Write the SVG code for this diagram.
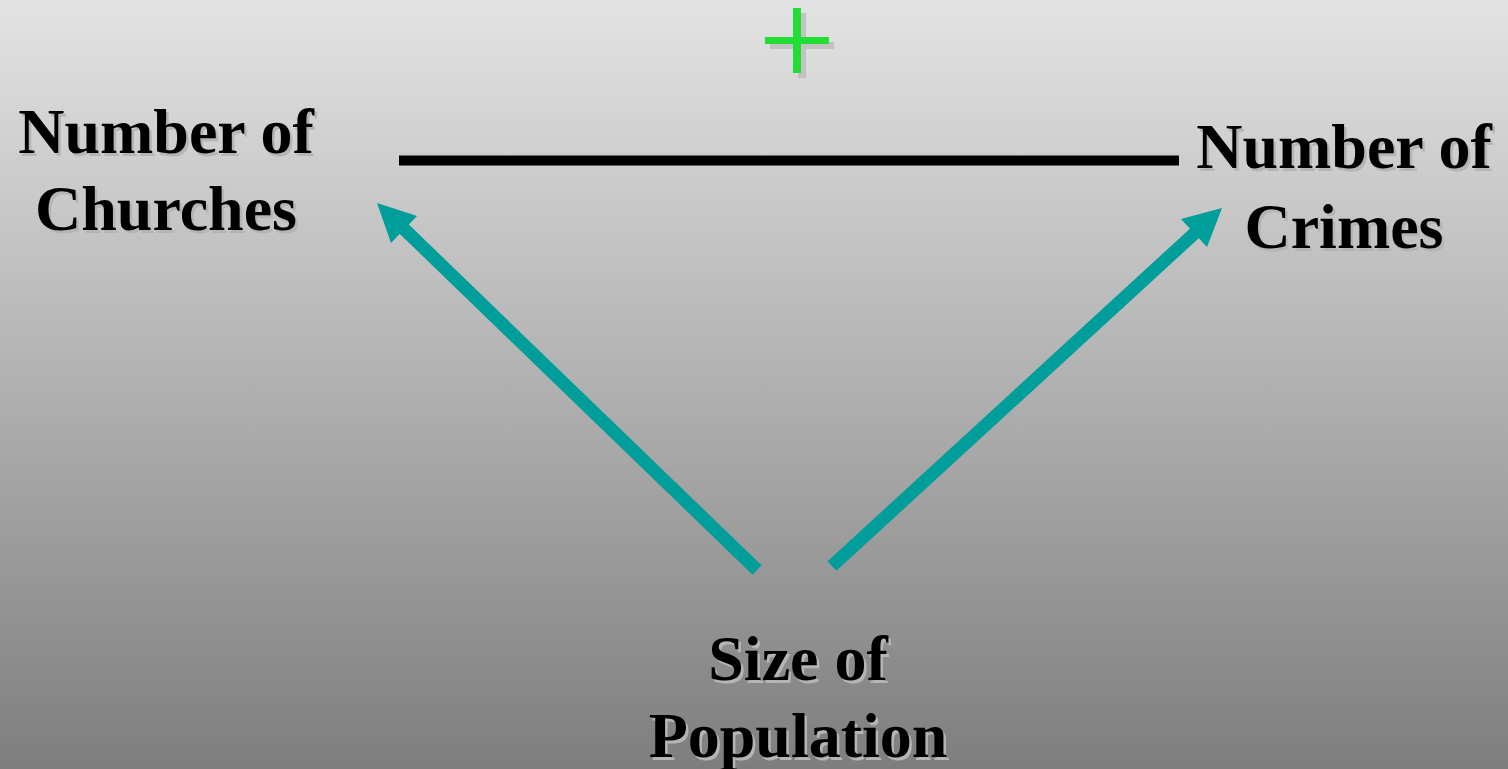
<svg xmlns="http://www.w3.org/2000/svg" width="1508" height="769" viewBox="0 0 1508 769">
<defs>
<linearGradient id="bg" x1="0" y1="0" x2="0" y2="1">
<stop offset="0" stop-color="#e3e3e3"/>
<stop offset="1" stop-color="#7e7e7e"/>
</linearGradient>
<style>
.lbl{font-family:"Liberation Serif","Times New Roman",serif;font-weight:bold;font-size:64px;text-anchor:middle}
.sh{fill:#b5b5b5}
.fg{fill:#000}
.conn{stroke:#009e9a;stroke-width:13;fill:none}
.head{fill:#009e9a}
</style>
</defs>
<rect width="1508" height="769" fill="url(#bg)"/>
<g id="plus">
<rect x="770" y="42" width="64" height="7" fill="#c2c2c2"/>
<rect x="798" y="13" width="8" height="65" fill="#c2c2c2"/>
<rect x="765" y="37" width="64" height="7" fill="#22dd33"/>
<rect x="793" y="8" width="8" height="65" fill="#22dd33"/>
</g>
<g id="connectors">
<line x1="399" y1="160.5" x2="1179" y2="160.5" stroke="#000" stroke-width="10"/>
<line class="conn" x1="757" y1="570" x2="402" y2="227"/>
<polygon class="head" points="377,203 417,216 391,243"/>
<line class="conn" x1="832" y1="566" x2="1197" y2="231"/>
<polygon class="head" points="1222,208 1207,247 1181,219"/>
</g>
<g id="churches" class="lbl">
<text class="sh" x="168.5" y="155.5">Number of</text>
<text class="sh" x="168.5" y="232.5">Churches</text>
<text class="fg" x="166" y="153">Number of</text>
<text class="fg" x="166" y="230">Churches</text>
</g>
<g id="crimes" class="lbl">
<text class="sh" x="1346.5" y="170.5">Number of</text>
<text class="sh" x="1346.5" y="250.5">Crimes</text>
<text class="fg" x="1344" y="168">Number of</text>
<text class="fg" x="1344" y="248">Crimes</text>
</g>
<g id="population" class="lbl">
<text class="sh" x="800.5" y="682.5">Size of</text>
<text class="sh" x="800.5" y="759.5">Population</text>
<text class="fg" x="798" y="680">Size of</text>
<text class="fg" x="798" y="757">Population</text>
</g>
</svg>
